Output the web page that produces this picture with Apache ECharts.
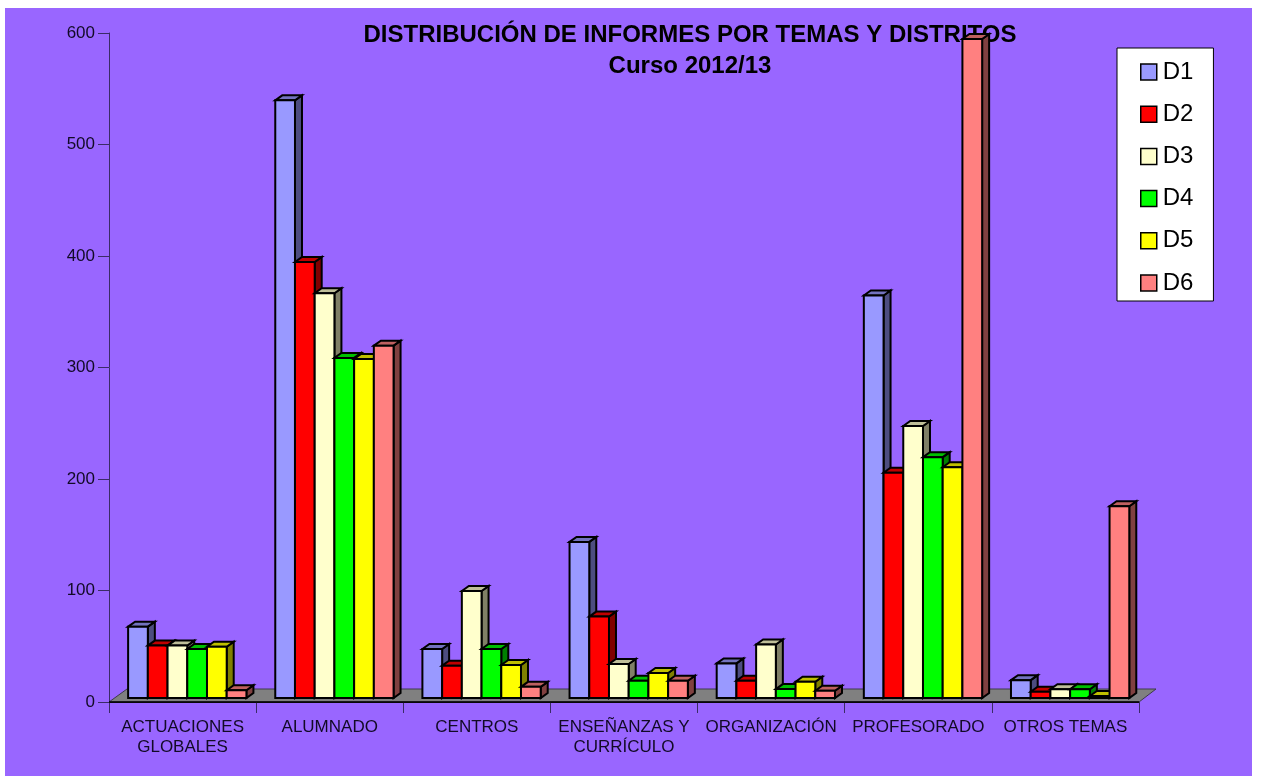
<!DOCTYPE html>
<html><head><meta charset="utf-8">
<script src="https://cdn.jsdelivr.net/npm/echarts@6/dist/echarts.min.js"></script>
<style>
html,body{margin:0;padding:0;background:#fff;width:1261px;height:776px;overflow:hidden}
#bg{position:absolute;left:5px;top:8px;width:1247px;height:768px;background:#9966ff}
#c{position:absolute;left:0;top:0;width:1261px;height:776px}
</style></head><body><div id="bg"></div><div id="c"></div>
<script>
const categories = ['ACTUACIONES\nGLOBALES','ALUMNADO','CENTROS','ENSEÑANZAS Y\nCURRÍCULO','ORGANIZACIÓN','PROFESORADO','OTROS TEMAS'];
const D1 = [64,536,44,140,31,361,16];
const D2 = [47,391,29,73,15.5,202,5.6];
const D3 = [47,363,96,30.5,48,244,7.8];
const D4 = [44,305,44,15.5,8,216,7.8];
const D5 = [46,304,29.6,22.4,14.6,207,1.8];
const D6 = [7,316,10,15.5,6.5,591,172];
const names = ['D1','D2','D3','D4','D5','D6'];
const colors = ['#9999ff','#ff0000','#ffffcc','#00ff00','#ffff00','#ff8080'];
const valuesBySeries = [D1,D2,D3,D4,D5,D6];

function shade(hex,k){
  const n=parseInt(hex.slice(1),16);
  const f=s=>Math.round(((n>>s)&255)*k);
  return 'rgb('+f(16)+','+f(8)+','+f(0)+')';
}
const DX=7, DY=5, PLANE_X=4.7, PLANE_Y=4, LW=2;

function barRenderer(idx){
  return function(params,api){
    const cat=api.value(0), val=api.value(1);
    const top=api.coord([cat,val]), base=api.coord([cat,0]);
    const w=api.size([1,0])[0]*0.134;
    const x0=top[0]+PLANE_X+(idx-3)*w, x1=x0+w;
    const y0=top[1]-PLANE_Y, y1=base[1]-PLANE_Y;
    const c=colors[idx];
    const st=f=>({fill:f,stroke:'#000',lineWidth:LW,lineJoin:'miter'});
    return {type:'group',children:[
      {type:'polygon',shape:{points:[[x1,y0],[x1+DX,y0-DY],[x1+DX,y1-DY],[x1,y1]]},style:st(shade(c,0.5))},
      {type:'polygon',shape:{points:[[x0,y0],[x0+DX,y0-DY],[x1+DX,y0-DY],[x1,y0]]},style:st(shade(c,0.75))},
      {type:'polygon',shape:{points:[[x0,y0],[x1,y0],[x1,y1],[x0,y1]]},style:st(c)}
    ]};
  };
}
function floorRenderer(params,api){
  const g=params.coordSys, b=g.y+g.height, r=g.x+g.width;
  return {type:'group',children:[
    {type:'polygon',shape:{points:[[g.x,b],[g.x+18,b-13],[r+17,b-13],[r,b]]},
     style:{fill:'#808080',stroke:'#3d3a4a',lineWidth:1}},
    {type:'line',shape:{x1:g.x,y1:b,x2:r,y2:b},style:{stroke:'#000',lineWidth:1.5}}
  ]};
}
const series=[{type:'custom',name:'floor',coordinateSystem:'cartesian2d',clip:false,silent:true,z:1,
  renderItem:floorRenderer,encode:{x:0,y:1},data:[[0,0]]}];
names.forEach((n,i)=>series.push({
  type:'custom',name:n,coordinateSystem:'cartesian2d',clip:false,z:3+i,
  itemStyle:{color:colors[i]},renderItem:barRenderer(i),encode:{x:0,y:1},
  data:valuesBySeries[i].map((v,k)=>[k,v])
}));

const axisLine={lineStyle:{color:'#3a2b66',width:1}};
const chart=echarts.init(document.getElementById('c'),null,{renderer:'canvas'});
chart.setOption({
  animation:false,
  backgroundColor:'transparent',
  textStyle:{fontFamily:'"Liberation Sans",Arial,sans-serif'},
  title:[
    {text:'DISTRIBUCIÓN DE INFORMES POR TEMAS Y DISTRITOS',left:690,top:23,textAlign:'center',
     textStyle:{fontSize:24,fontWeight:'bold',color:'#000',fontFamily:'"Liberation Sans"'},padding:0},
    {text:'Curso 2012/13',left:690,top:54,textAlign:'center',
     textStyle:{fontSize:24,fontWeight:'bold',color:'#000',fontFamily:'"Liberation Sans"'},padding:0}
  ],
  legend:{
    data:names,orient:'vertical',left:1117,top:48,icon:'rect',
    itemWidth:16,itemHeight:16,itemGap:14.2,itemStyle:{borderColor:'#000',borderWidth:1.5},
    padding:[10,20,4,23],backgroundColor:'#fff',borderColor:'#000',borderWidth:1,borderRadius:0,
    textStyle:{fontSize:24,color:'#000',fontFamily:'"Liberation Sans"',padding:[0,0,0,1],lineHeight:28},
    selectedMode:false
  },
  grid:{left:109,right:122,top:33,bottom:74,containLabel:false},
  xAxis:{type:'category',data:categories,boundaryGap:true,
    axisLine:{show:true,lineStyle:{color:'#000',width:1}},
    axisTick:{show:true,length:11,alignWithLabel:false,lineStyle:axisLine.lineStyle},
    axisLabel:{interval:0,margin:15,fontSize:17,lineHeight:20,color:'#120a26',fontFamily:'"Liberation Sans"'},
    splitLine:{show:false}},
  yAxis:{type:'value',min:0,max:600,interval:100,
    axisLine:{show:true,lineStyle:axisLine.lineStyle},
    axisTick:{show:true,length:11,lineStyle:axisLine.lineStyle},
    axisLabel:{margin:14,fontSize:17,color:'#120a26',fontFamily:'"Liberation Sans"'},
    splitLine:{show:false}},
  series:series
});
</script></body></html>
